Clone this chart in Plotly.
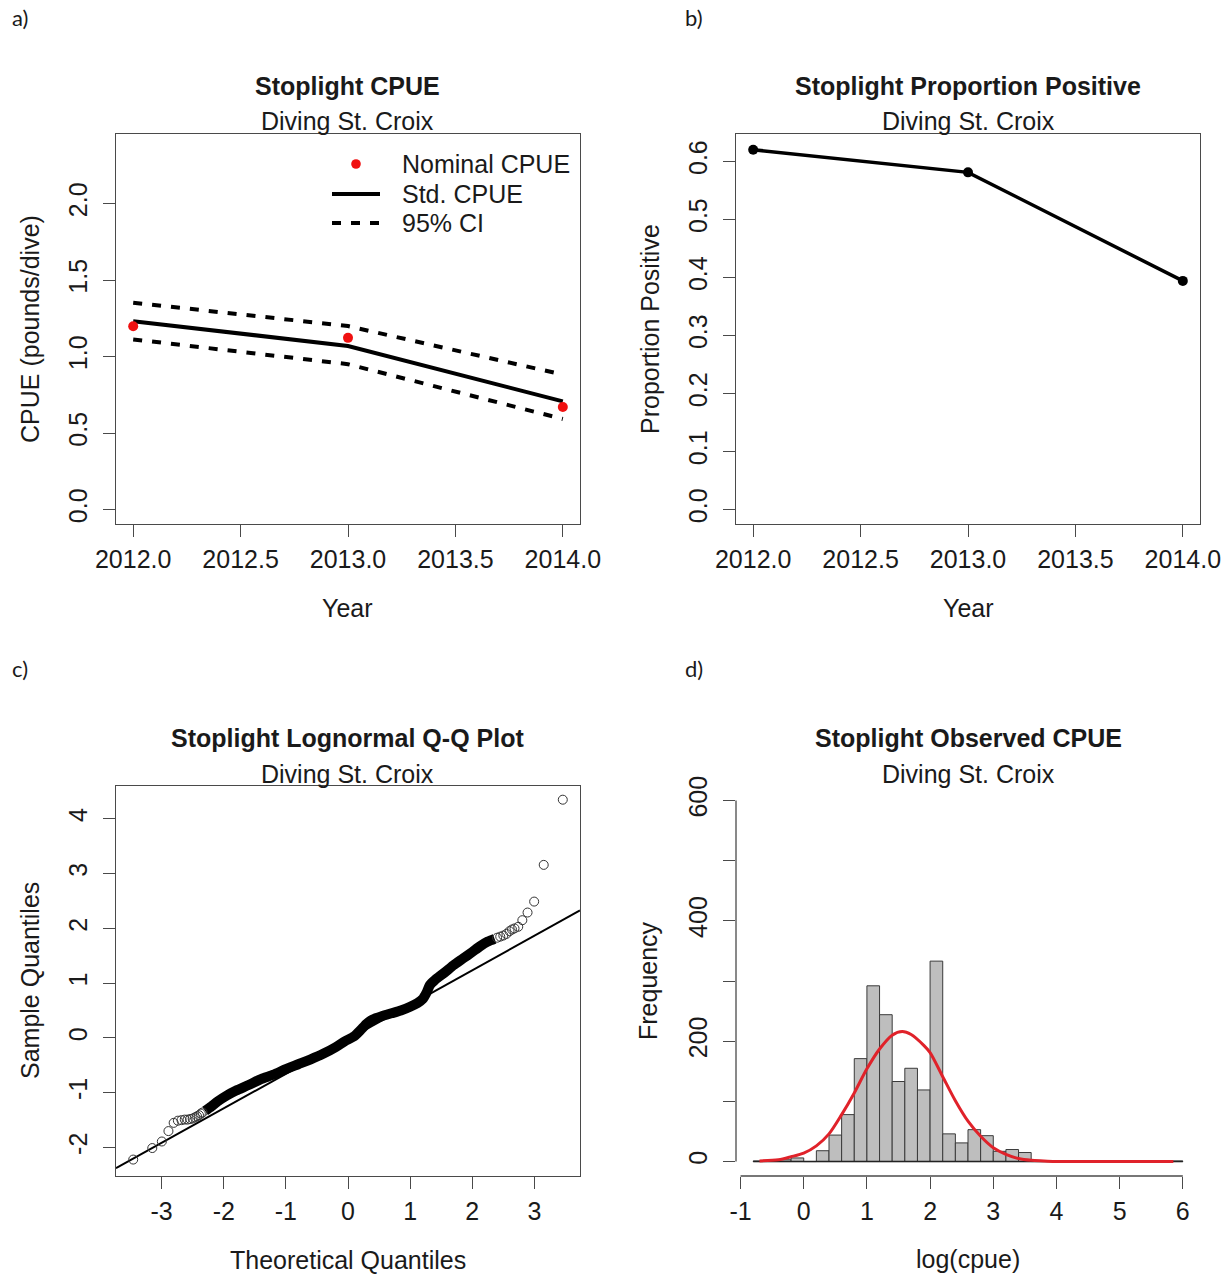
import plotly.graph_objects as go

W, H = 1227, 1278
FONT = "Liberation Sans, Arial, sans-serif"
INK = "#1a1a1a"
FRAME = "#4a4a4a"

# ---------------- data ----------------
# Panel a: standardized CPUE with 95% CI and nominal CPUE
years = [2012, 2013, 2014]
std_cpue = [1.231, 1.069, 0.707]
ci_upper = [1.352, 1.199, 0.882]
ci_lower = [1.112, 0.950, 0.592]
nominal_cpue = [1.198, 1.122, 0.670]

# Panel b: proportion of positive dives
prop_positive = [0.620, 0.581, 0.394]

# Panel c: lognormal Q-Q plot (dense central run and individual outer points)
qq_band_theoretical = [-2.30, -2.20, -2.10, -1.95, -1.80, -1.60, -1.40, -1.20, -1.00,
                       -0.80, -0.60, -0.40, -0.20, -0.05, 0.10, 0.20, 0.30, 0.40,
                       0.55, 0.70, 0.85, 1.00, 1.12, 1.20, 1.26, 1.32, 1.40, 1.55,
                       1.70, 1.85, 2.00, 2.12, 2.25, 2.36]
qq_band_sample = [-1.33, -1.25, -1.16, -1.05, -0.96, -0.86, -0.75, -0.67, -0.57,
                  -0.48, -0.39, -0.29, -0.17, -0.06, 0.03, 0.14, 0.26, 0.34,
                  0.40, 0.45, 0.50, 0.57, 0.64, 0.71, 0.82, 0.97, 1.06, 1.19,
                  1.33, 1.45, 1.57, 1.67, 1.76, 1.81]
qq_outer_theoretical = [-3.457, -3.150, -2.996, -2.890, -2.806, -2.738, -2.680,
                        -2.628, -2.582, -2.540, -2.500, -2.464, -2.430, -2.398,
                        -2.368, -2.340,
                        2.400, 2.450, 2.500, 2.550, 2.600, 2.640, 2.680, 2.740,
                        2.806, 2.890, 2.996, 3.150, 3.457]
qq_outer_sample = [-2.22, -2.01, -1.89, -1.70, -1.55, -1.51, -1.50,
                   -1.49, -1.49, -1.48, -1.47, -1.45, -1.43, -1.41,
                   -1.38, -1.36,
                   1.83, 1.85, 1.87, 1.90, 1.95, 1.98, 2.00, 2.03,
                   2.15, 2.29, 2.49, 3.16, 4.35]
qq_line_intercept = -0.025
qq_line_slope = 0.630

# Panel d: histogram of log(cpue), 0.2-wide bins starting at -0.8
bin_width = 0.2
bin_left = [-0.8, -0.6, -0.4, -0.2, 0.0, 0.2, 0.4, 0.6, 0.8, 1.0, 1.2, 1.4, 1.6,
            1.8, 2.0, 2.2, 2.4, 2.6, 2.8, 3.0, 3.2, 3.4, 3.6, 3.8, 4.0, 4.2,
            4.4, 4.6, 4.8, 5.0, 5.2, 5.4, 5.6, 5.8]
bin_count = [1, 1, 3, 6, 0, 18, 44, 78, 171, 292, 244, 133, 155,
             119, 333, 46, 31, 53, 43, 17, 20, 15, 0, 1, 0, 0,
             0, 0, 0, 0, 0, 0, 0, 1]
# fitted normal curve on the frequency scale
fit_x = [-0.7, -0.4, -0.2, 0.0, 0.2, 0.4, 0.6, 0.8, 1.0, 1.2, 1.4, 1.56, 1.7,
         1.9, 2.0, 2.2, 2.4, 2.6, 2.8, 3.0, 3.2, 3.4, 3.6, 3.8, 4.0, 4.5, 5.0, 5.85]
fit_y = [1, 3, 8, 14, 26, 46, 78, 114, 154, 187, 210, 216, 211,
         193, 181, 141, 101, 67, 42, 23, 12, 5, 2, 1, 0, 0, 0, 0]

# ---------------- axis ranges ----------------
year_range = [2011.92, 2014.08]
cpue_range = [-0.0944, 2.4544]
prop_range = [-0.0249, 0.6471]
qq_x_range = [-3.734, 3.734]
qq_y_range = [-2.52, 4.60]
hist_x_range = [-1.072, 6.272]
hist_y_range = [-24, 624]

# panel frames in pixels (left, right, top, bottom)
PA = (116, 580, 134, 524)
PB = (736, 1200, 134, 524)
PC = (116, 580, 786, 1176)
PD = (736, 1200, 786, 1176)


def xdom(p):
    return [p[0] / W, p[1] / W]


def ydom(p):
    return [1 - p[3] / H, 1 - p[2] / H]


def px(x):
    return x / W


def py(y):
    return 1 - y / H


fig = go.Figure()

dots = "9px,10px"
# panel a
fig.add_trace(go.Scatter(x=years, y=ci_upper, mode="lines",
                         line=dict(color="black", width=4, dash=dots),
                         xaxis="x", yaxis="y"))
fig.add_trace(go.Scatter(x=years, y=ci_lower, mode="lines",
                         line=dict(color="black", width=4, dash=dots),
                         xaxis="x", yaxis="y"))
fig.add_trace(go.Scatter(x=years, y=std_cpue, mode="lines",
                         line=dict(color="black", width=4),
                         xaxis="x", yaxis="y"))
fig.add_trace(go.Scatter(x=years, y=nominal_cpue, mode="markers",
                         marker=dict(color="#f01010", size=10),
                         xaxis="x", yaxis="y"))

# panel b
fig.add_trace(go.Scatter(x=years, y=prop_positive, mode="lines+markers",
                         line=dict(color="black", width=3.5),
                         marker=dict(color="black", size=10),
                         xaxis="x2", yaxis="y2"))

# panel c
fig.add_trace(go.Scatter(x=qq_x_range,
                         y=[qq_line_intercept + qq_line_slope * v for v in qq_x_range],
                         mode="lines", line=dict(color="black", width=2),
                         xaxis="x3", yaxis="y3"))
fig.add_trace(go.Scatter(x=qq_band_theoretical, y=qq_band_sample, mode="lines",
                         line=dict(color="black", width=10, shape="spline", smoothing=0.6),
                         xaxis="x3", yaxis="y3"))
fig.add_trace(go.Scatter(x=qq_outer_theoretical, y=qq_outer_sample, mode="markers",
                         marker=dict(symbol="circle-open", size=9, color="#333333",
                                     line=dict(width=1)),
                         xaxis="x3", yaxis="y3"))

# panel d
bin_mid = [b + bin_width / 2 for b in bin_left]
fig.add_trace(go.Scatter(x=[bin_left[0], bin_left[-1] + bin_width], y=[0, 0],
                         mode="lines", line=dict(color="#222222", width=1.5),
                         xaxis="x4", yaxis="y4"))
fig.add_trace(go.Bar(x=bin_mid, y=bin_count, width=bin_width,
                     marker=dict(color="#bebebe", line=dict(color="#3a3a3a", width=1)),
                     xaxis="x4", yaxis="y4"))
fig.add_trace(go.Scatter(x=fit_x, y=fit_y, mode="lines",
                         line=dict(color="#e0222a", width=3, shape="spline", smoothing=0.8),
                         xaxis="x4", yaxis="y4"))

tickfont = dict(family=FONT, size=25, color=INK)


def axis(domain, rng, vals, text, anchor, boxed=True, angle=0, standoff=0):
    d = dict(domain=domain, range=rng, anchor=anchor, tickvals=vals, ticktext=text,
             ticks="outside", ticklen=12, tickwidth=1.3, tickcolor=FRAME,
             showgrid=False, zeroline=False, tickfont=tickfont, tickangle=angle,
             ticklabelstandoff=standoff, automargin=False, fixedrange=True)
    if boxed:
        d.update(showline=True, linecolor=FRAME, linewidth=1.3, mirror=True)
    else:
        d.update(showline=False)
    return d


year_ticks = [2012, 2012.5, 2013, 2013.5, 2014]
year_text = ["2012.0", "2012.5", "2013.0", "2013.5", "2014.0"]
cpue_ticks = [0, 0.5, 1.0, 1.5, 2.0]
cpue_text = ["0.0", "0.5", "1.0", "1.5", "2.0"]
prop_ticks = [0, 0.1, 0.2, 0.3, 0.4, 0.5, 0.6]
prop_text = ["0.0", "0.1", "0.2", "0.3", "0.4", "0.5", "0.6"]
qq_xticks = [-3, -2, -1, 0, 1, 2, 3]
qq_xtext = ["-3", "-2", "-1", "0", "1", "2", "3"]
qq_yticks = [-2, -1, 0, 1, 2, 3, 4]
qq_ytext = ["-2", "-1", "0", "1", "2", "3", "4"]
hist_xticks = [-1, 0, 1, 2, 3, 4, 5, 6]
hist_xtext = ["-1", "0", "1", "2", "3", "4", "5", "6"]
hist_yticks = [0, 100, 200, 300, 400, 500, 600]
hist_ytext = ["0", "", "200", "", "400", "", "600"]

XS = 1
YS = 6
fig.update_layout(
    template="none",
    width=W, height=H, margin=dict(l=0, r=0, t=0, b=0, pad=0, autoexpand=False),
    paper_bgcolor="white", plot_bgcolor="white", showlegend=False,
    font=dict(family=FONT, color=INK),
    xaxis=axis(xdom(PA), year_range, year_ticks, year_text, "y", standoff=XS),
    yaxis=axis(ydom(PA), cpue_range, cpue_ticks, cpue_text, "x", angle=-90, standoff=YS),
    xaxis2=axis(xdom(PB), year_range, year_ticks, year_text, "y2", standoff=XS),
    yaxis2=axis(ydom(PB), prop_range, prop_ticks, prop_text, "x2", angle=-90, standoff=YS),
    xaxis3=axis(xdom(PC), qq_x_range, qq_xticks, qq_xtext, "y3", standoff=XS),
    yaxis3=axis(ydom(PC), qq_y_range, qq_yticks, qq_ytext, "x3", angle=-90, standoff=YS),
    xaxis4=axis(xdom(PD), hist_x_range, hist_xticks, hist_xtext, "y4", boxed=False, standoff=XS),
    yaxis4=axis(ydom(PD), hist_y_range, hist_yticks, hist_ytext, "x4", boxed=False,
                angle=-90, standoff=YS),
)

# histogram axis lines span only the tick range
fig.add_shape(type="line", xref="x4", yref="y4 domain", x0=-1, x1=6, y0=0, y1=0,
              line=dict(color=FRAME, width=1.3))
fig.add_shape(type="line", xref="x4 domain", yref="y4", x0=0, x1=0, y0=0, y1=600,
              line=dict(color=FRAME, width=1.3))

# legend for panel a
fig.add_shape(type="circle", xref="paper", yref="paper",
              x0=px(356 - 4.8), x1=px(356 + 4.8), y0=py(164 + 4.8), y1=py(164 - 4.8),
              fillcolor="#f01010", line=dict(width=0))
fig.add_shape(type="line", xref="paper", yref="paper",
              x0=px(332), x1=px(380), y0=py(194), y1=py(194),
              line=dict(color="black", width=4))
fig.add_shape(type="line", xref="paper", yref="paper",
              x0=px(332), x1=px(380), y0=py(223), y1=py(223),
              line=dict(color="black", width=4, dash=dots))
for label, yy in [("Nominal CPUE", 164), ("Std. CPUE", 194), ("95% CI", 223)]:
    fig.add_annotation(x=px(400), y=py(yy), xref="paper", yref="paper", text=label,
                       showarrow=False, xanchor="left", yanchor="middle",
                       font=dict(family=FONT, size=25, color=INK))


def text(x, y, s, size=25, bold=False, angle=0, family=FONT, anchor="center"):
    fig.add_annotation(x=px(x), y=py(y), xref="paper", yref="paper",
                       text=f"<b>{s}</b>" if bold else s, showarrow=False,
                       xanchor=anchor, yanchor="middle", textangle=angle,
                       font=dict(family=family, size=size, color=INK))


ca = (PA[0] + PA[1]) / 2
cb = (PB[0] + PB[1]) / 2
subtitle = "Diving St. Croix"
# titles and subtitles
text(ca, 86, "Stoplight CPUE", bold=True)
text(ca, 121, subtitle)
text(cb, 86, "Stoplight Proportion Positive", bold=True)
text(cb, 121, subtitle)
text(ca, 738, "Stoplight Lognormal Q-Q Plot", bold=True)
text(ca, 774, subtitle)
text(cb, 738, "Stoplight Observed CPUE", bold=True)
text(cb, 774, subtitle)
# axis titles
text(ca, 608, "Year")
text(cb, 608, "Year")
text(ca, 1260, "Theoretical Quantiles")
text(cb, 1259, "log(cpue)")
text(30, 329, "CPUE (pounds/dive)", angle=-90)
text(650, 329, "Proportion Positive", angle=-90)
text(30, 981, "Sample Quantiles", angle=-90)
text(648, 981, "Frequency", angle=-90)
# panel letters
panel_font = "Lato, Carlito, Liberation Sans, sans-serif"
text(10, 18, "a)", size=22, family=panel_font, anchor="left")
text(683, 18, "b)", size=22, family=panel_font, anchor="left")
text(10, 668, "c)", size=22, family=panel_font, anchor="left")
text(683, 668, "d)", size=22, family=panel_font, anchor="left")

fig.write_html("out.html")
